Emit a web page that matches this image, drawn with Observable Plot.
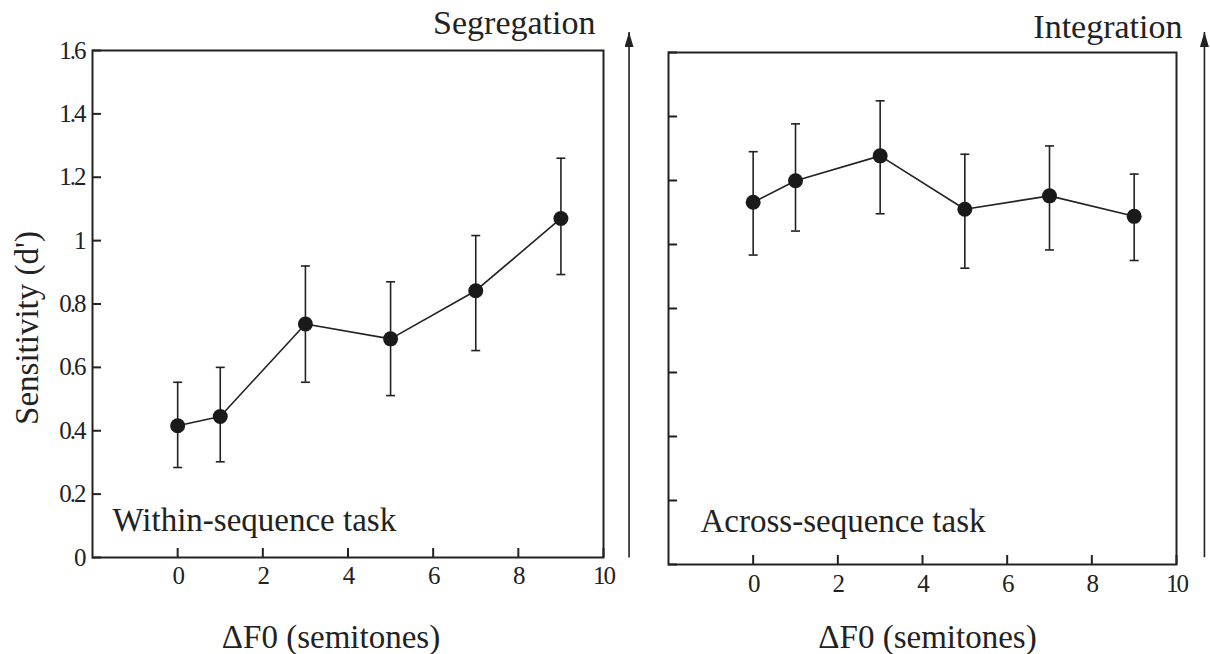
<!DOCTYPE html>
<html>
<head>
<meta charset="utf-8">
<script src="https://cdn.jsdelivr.net/npm/d3@7"></script>
<script src="https://cdn.jsdelivr.net/npm/@observablehq/plot@0.6"></script>
<style>
  html, body { margin: 0; padding: 0; background: #fff; }
  #wrap { position: relative; width: 1210px; height: 654px; background: #fff; }
  #wrap svg { position: absolute; top: 0; }
  #wrap svg text { font-family: 'Liberation Serif', 'Times New Roman', serif; }
  g[aria-label="y-axis tick label"] text, g[aria-label="x-axis tick label"] text { letter-spacing: -2px; }
</style>
</head>
<body>
<div id="wrap"></div>
<script>
// ---- data ----
const deltaF0 = [0, 1, 3, 5, 7, 9];
const withinMean = [0.416, 0.445, 0.737, 0.690, 0.842, 1.070];
const withinLow  = [0.284, 0.302, 0.553, 0.511, 0.653, 0.893];
const withinHigh = [0.553, 0.600, 0.920, 0.870, 1.016, 1.260];
const acrossMean = [1.132, 1.199, 1.277, 1.110, 1.152, 1.088];
const acrossLow  = [0.967, 1.042, 1.096, 0.926, 0.983, 0.950];
const acrossHigh = [1.290, 1.377, 1.449, 1.282, 1.308, 1.220];
const xTicks = [0, 2, 4, 6, 8, 10];
const yTicks = [0, 0.2, 0.4, 0.6, 0.8, 1, 1.2, 1.4, 1.6];
const xLabel = "\u0394F0 (semitones)";
const yLabel = "Sensitivity (d')";
const panelLabels = ["Within-sequence task", "Across-sequence task"];
const arrowLabels = ["Segregation", "Integration"];

const ink = "#222";
const font = "Liberation Serif";
const capSymbol = { draw(ctx) { ctx.moveTo(-4.5, 0); ctx.lineTo(4.5, 0); } };

function rows(mean, low, high) {
  return deltaF0.map((x, i) => ({ x, y: mean[i], low: low[i], high: high[i] }));
}

function panel({ data, width, mTop, mRight, mBottom, mLeft, yLabels, panelLabel, panelDx, panelDy,
                 arrowLabel, arrowDx, arrowDy, arrowX, arrowY1, arrowY2, xPad, xLabelDx, xLabelDy }) {
  const marks = [
    Plot.frame({ stroke: ink, strokeWidth: 2 }),
    Plot.axisY({ ticks: yTicks, tickSize: -9, tickPadding: 17, strokeWidth: 2, fontSize: 25, fontFamily: font,
                 tickFormat: yLabels ? (d => d3.format("")(+d.toFixed(1))) : (() => ""), label: null }),
    Plot.axisX({ ticks: xTicks, tickSize: -9, tickPadding: xPad, strokeWidth: 2, fontSize: 25, fontFamily: font, label: null }),
    Plot.ruleX(data, { x: "x", y1: "low", y2: "high", stroke: ink, strokeWidth: 1.6 }),
    Plot.dot(data, { x: "x", y: "low", symbol: capSymbol, stroke: ink, strokeWidth: 1.6, fill: "none" }),
    Plot.dot(data, { x: "x", y: "high", symbol: capSymbol, stroke: ink, strokeWidth: 1.6, fill: "none" }),
    Plot.line(data, { x: "x", y: "y", stroke: ink, strokeWidth: 1.6 }),
    Plot.dot(data, { x: "x", y: "y", r: 7.5, fill: "#1a1a1a", stroke: "none" }),
    Plot.text([panelLabel], { frameAnchor: "bottom-left", text: d => d, textAnchor: "start", lineAnchor: "bottom",
                              dx: panelDx, dy: panelDy, fontSize: 33, fontFamily: font, fill: ink }),
    Plot.text([arrowLabel], { frameAnchor: "top-right", text: d => d, textAnchor: "end", lineAnchor: "bottom",
                              dx: arrowDx, dy: arrowDy, fontSize: 34, fontFamily: font, fill: ink }),
    Plot.text([xLabel], { frameAnchor: "bottom", text: d => d, textAnchor: "middle", lineAnchor: "bottom",
                          dx: xLabelDx, dy: xLabelDy, fontSize: 33, fontFamily: font, fill: ink }),
    Plot.link([{ x: arrowX, y1: arrowY1, y2: arrowY2 }], { x1: "x", x2: "x", y1: "y1", y2: "y2",
                 stroke: ink, strokeWidth: 1.6 })
  ];
  if (yLabels) {
    marks.push(Plot.text([yLabel], { frameAnchor: "left", text: d => d, rotate: -90, textAnchor: "middle",
                                     lineAnchor: "bottom", dx: -55, dy: 24, fontSize: 33, fontFamily: font, fill: ink }));
  }
  const svg = Plot.plot({
    width, height: 654,
    marginTop: mTop, marginRight: mRight, marginBottom: mBottom, marginLeft: mLeft,
    x: { domain: [-2, 10] },
    y: { domain: [0, 1.6] },
    style: { fontFamily: font, color: ink, background: "#fff", overflow: "visible" },
    marks
  });
  const id = "ah" + Math.random().toString(36).slice(2);
  const s = d3.select(svg);
  s.append("defs").append("marker")
    .attr("id", id).attr("viewBox", "0 0 10 10").attr("refX", 10).attr("refY", 5)
    .attr("markerUnits", "userSpaceOnUse").attr("markerWidth", 15).attr("markerHeight", 9)
    .attr("preserveAspectRatio", "none").attr("orient", "auto")
    .append("path").attr("d", "M0,0L10,5L0,10z").attr("fill", ink);
  s.selectAll('g[aria-label="link"] path').attr("marker-end", `url(#${id})`);
  return svg;
}

const wrap = document.getElementById("wrap");

const left = panel({
  data: rows(withinMean, withinLow, withinHigh), width: 640,
  mTop: 50, mRight: 37, mBottom: 97, mLeft: 92, yLabels: true,
  panelLabel: panelLabels[0], panelDx: 20, panelDy: -27,
  arrowLabel: arrowLabels[0], arrowDx: -8, arrowDy: -17,
  arrowX: 10.6, arrowY1: 0, arrowY2: 1.658, xPad: 18, xLabelDx: -17, xLabelDy: 90
});
left.style.left = "0px";
wrap.appendChild(left);

const right = panel({
  data: rows(acrossMean, acrossLow, acrossHigh), width: 570,
  mTop: 52, mRight: 34, mBottom: 90, mLeft: 28, yLabels: false,
  panelLabel: panelLabels[1], panelDx: 32, panelDy: -33,
  arrowLabel: arrowLabels[1], arrowDx: 6, arrowDy: -15,
  arrowX: 10.66, arrowY1: 0.023, arrowY2: 1.664, xPad: 19, xLabelDx: 5, xLabelDy: 83
});
right.style.left = "640px";
wrap.appendChild(right);
</script>
</body>
</html>
